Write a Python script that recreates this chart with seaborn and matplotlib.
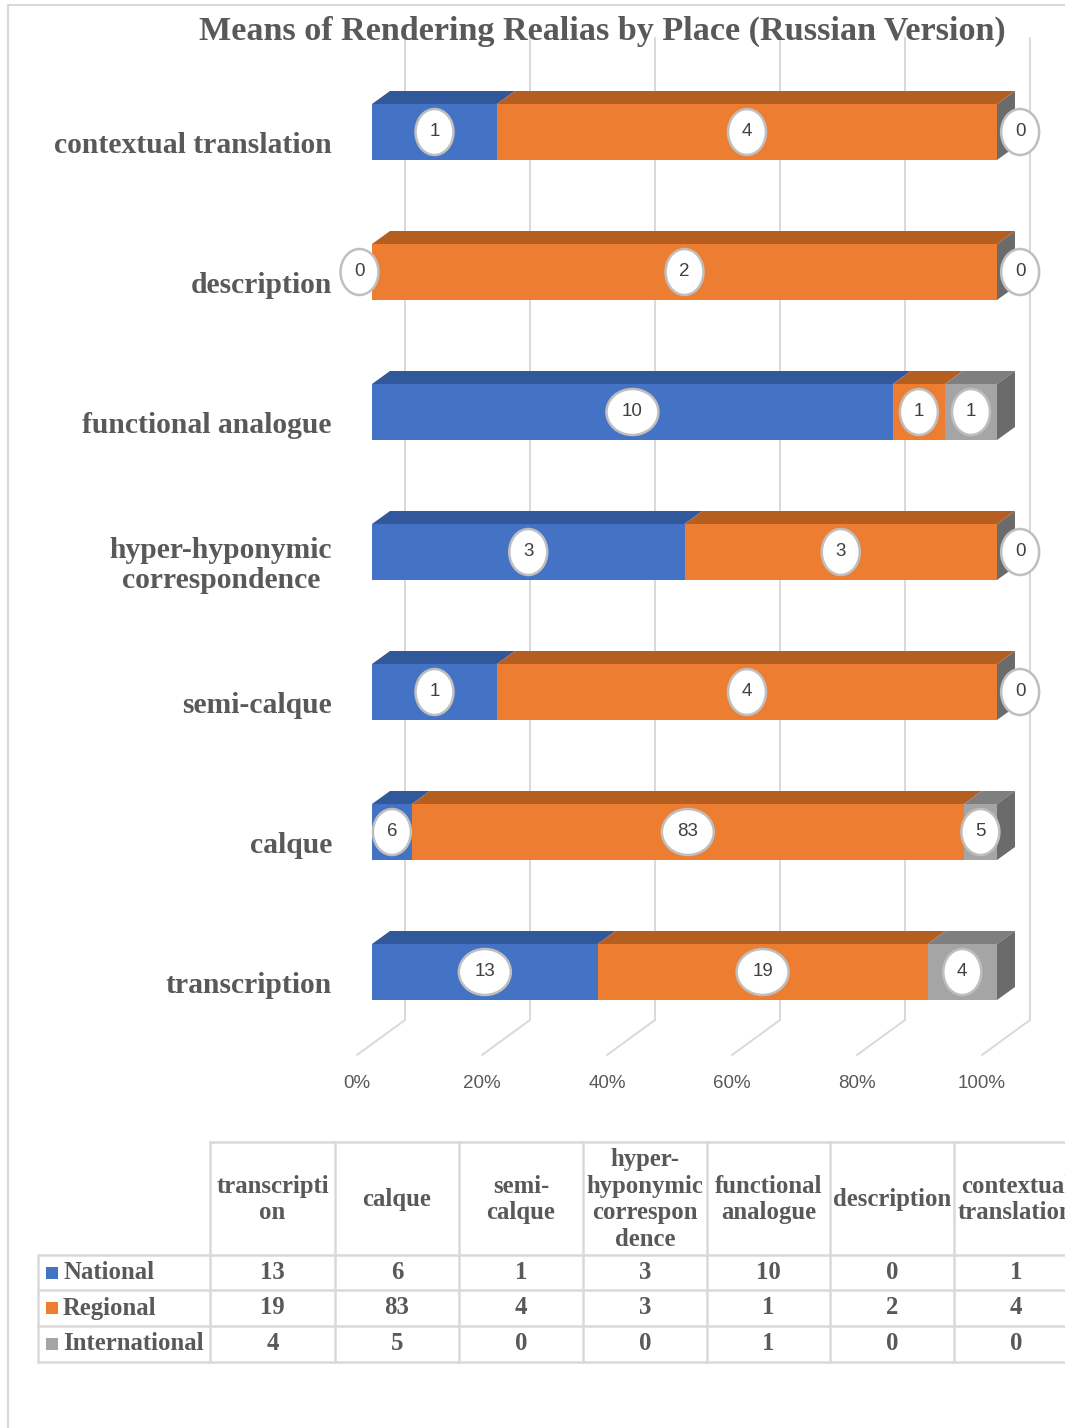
import numpy as np
import pandas as pd
import matplotlib
matplotlib.use("Agg")
import matplotlib.pyplot as plt
from matplotlib.patches import Polygon, Ellipse, Rectangle
import seaborn as sns

# ---- data -------------------------------------------------------------
methods = ["transcription", "calque", "semi-calque", "hyper-hyponymic correspondence",
           "functional analogue", "description", "contextual translation"]
national = [13, 6, 1, 3, 10, 0, 1]
regional = [19, 83, 4, 3, 1, 2, 4]
international = [4, 5, 0, 0, 1, 0, 0]
series_names = ["National", "Regional", "International"]
axis_labels = {"hyper-hyponymic correspondence": "hyper-hyponymic\ncorrespondence"}
table_headers = ["transcripti\non", "calque", "semi-\ncalque",
                 "hyper-\nhyponymic\ncorrespon\ndence", "functional\nanalogue",
                 "description", "contextual\ntranslation"]
tick_values = [0.0, 0.2, 0.4, 0.6, 0.8, 1.0]
tick_labels = ["0%", "20%", "40%", "60%", "80%", "100%"]
title = "Means of Rendering Realias by Place (Russian Version)"

# ---- styling ----------------------------------------------------------
sns.set_style("white")
plt.rcParams["font.family"] = ["Liberation Serif", "DejaVu Serif"]
SERIF = ["Liberation Serif", "DejaVu Serif"]
SANS = ["Liberation Sans", "DejaVu Sans"]
TXT = "#595959"
GRID = "#d9d9d9"
front = ["#4472C4", "#ED7D31", "#A5A5A5"]
top = ["#30589A", "#B55E22", "#7F7F7F"]
SIDE = "#6B6B6B"

W, H = 1065, 1428
fig = plt.figure(figsize=(W / 100, H / 100), dpi=100)
fig.patch.set_facecolor("white")

# main plotting area (pixel box -> figure fraction)
L, R, T, B = 330, 1060, 20, 1110
ax = fig.add_axes([L / W, 1 - B / H, (R - L) / W, (B - T) / H])
X0, XS = 372, 625.0      # pixel of 0 %, pixels per 100 %
Y0, YS = 132, 140.0      # pixel of first category, pixels per category


def px_x(p):
    return (p - X0) / XS


def px_y(p):
    return (p - Y0) / YS


df = pd.DataFrame({"method": methods, "national": national,
                   "regional": regional, "international": international})
df["total"] = df[["national", "regional", "international"]].sum(axis=1)
df["s1"] = df["national"] / df["total"]
df["s2"] = (df["national"] + df["regional"]) / df["total"]
df["s3"] = (df["national"] + df["regional"] + df["international"]) / df["total"]

order = methods[::-1]
for col, c in zip(["s3", "s2", "s1"], front[::-1]):
    sns.barplot(data=df, x=col, y="method", order=order, color=c, width=0.4,
                saturation=1, linewidth=0, orient="h", ax=ax, zorder=2)

ax.set_xlim(px_x(L), px_x(R))
ax.set_ylim(px_y(B), px_y(T))
ax.set_xticks([])
ax.set_yticks([])
ax.set_xlabel("")
ax.set_ylabel("")
for s in ax.spines.values():
    s.set_visible(False)
ax.patch.set_alpha(0)

# 3-D depth offsets
dx, dy = 18 / XS, -13 / YS
gx, fx = 33 / XS, -15 / XS
g_top, g_back, g_front = px_y(38), px_y(1020), px_y(1055)

for t, lab in zip(tick_values, tick_labels):
    ax.plot([t + gx, t + gx], [g_top, g_back], color=GRID, lw=1.4, zorder=0.5)
    ax.plot([t + gx, t + fx], [g_back, g_front], color=GRID, lw=1.4, zorder=0.5)
    ax.text(t + fx, px_y(1083), lab, ha="center", va="center", fontsize=13.5,
            color=TXT, family=SANS)

n = len(order)
blue_patches = ax.patches[2 * n:3 * n]
rows = df.set_index("method")
for k, m in enumerate(order):
    p = blue_patches[k]
    yt, yb = p.get_y(), p.get_y() + p.get_height()
    yc = (yt + yb) / 2
    r = rows.loc[m]
    bounds = [0.0, r["s1"], r["s2"], r["s3"]]
    vals = [r["national"], r["regional"], r["international"]]
    for j in range(3):
        a, b = bounds[j], bounds[j + 1]
        if b > a:
            ax.add_patch(Polygon([(a, yt), (b, yt), (b + dx, yt + dy), (a + dx, yt + dy)],
                                 closed=True, facecolor=top[j], edgecolor="none", zorder=2.5))
    ax.add_patch(Polygon([(1, yt), (1 + dx, yt + dy), (1 + dx, yb + dy), (1, yb)],
                         closed=True, facecolor=SIDE, edgecolor="none", zorder=2.5))
    # value callouts
    for j in range(3):
        a, b = bounds[j], bounds[j + 1]
        xc = (a + b) / 2
        if vals[j] == 0:
            xc = a - 0.02 if j == 0 else b + 0.037
        txt = str(int(vals[j]))
        ew = (24 + 14 * len(txt)) / XS
        ax.add_patch(Ellipse((xc, yc), ew, 46 / YS, facecolor="white",
                             edgecolor="#bfbfbf", lw=1.8, zorder=4))
        ax.text(xc, yc, txt, ha="center", va="center", fontsize=13.5,
                color="#404040", family=SANS, zorder=5)
    ax.text(px_x(332), yc + 0.095, axis_labels.get(m, m), ha="right", va="center",
            multialignment="center", fontsize=21.3, fontweight="bold", color=TXT,
            family=SERIF, linespacing=1.12)

# ---- overlay: title, frame, data table -------------------------------
ov = fig.add_axes([0, 0, 1, 1])
ov.set_xlim(0, W)
ov.set_ylim(H, 0)
ov.axis("off")
ov.patch.set_alpha(0)

ov.text(602, 31, title, ha="center", va="center", fontsize=24.6, fontweight="bold",
        color=TXT, family=SERIF)
ov.plot([8, 8], [5, H], color=GRID, lw=1.5)
ov.plot([8, W], [5, 5], color=GRID, lw=1.5)

col_edges = [38, 210, 335, 459, 583, 707, 830, 954, 1078]
row_edges = [1142, 1255, 1290, 1326, 1362]
lw_t = 1.8
# horizontal rules
ov.plot([col_edges[1], col_edges[-1]], [row_edges[0]] * 2, color=GRID, lw=lw_t)
for yv in row_edges[1:]:
    ov.plot([col_edges[0], col_edges[-1]], [yv] * 2, color=GRID, lw=lw_t)
# vertical rules
ov.plot([col_edges[0]] * 2, [row_edges[1], row_edges[-1]], color=GRID, lw=lw_t)
for xv in col_edges[1:]:
    ov.plot([xv] * 2, [row_edges[0], row_edges[-1]], color=GRID, lw=lw_t)

tfs = 17.8
for c, hdr in enumerate(table_headers):
    xc = (col_edges[c + 1] + col_edges[c + 2]) / 2
    ov.text(xc, (row_edges[0] + row_edges[1]) / 2 + 1, hdr, ha="center", va="center",
            multialignment="center", fontsize=tfs, fontweight="bold", color=TXT,
            family=SERIF, linespacing=1.2)
series_vals = [national, regional, international]
for r_i, (name, vals) in enumerate(zip(series_names, series_vals)):
    yc = (row_edges[r_i + 1] + row_edges[r_i + 2]) / 2
    ov.add_patch(Rectangle((46, yc - 6), 12, 12, facecolor=front[r_i], edgecolor="none"))
    ov.text(63, yc, name, ha="left", va="center", fontsize=tfs, fontweight="bold",
            color=TXT, family=SERIF)
    for c, v in enumerate(vals):
        xc = (col_edges[c + 1] + col_edges[c + 2]) / 2
        ov.text(xc, yc, str(v), ha="center", va="center", fontsize=tfs,
                fontweight="bold", color=TXT, family=SERIF)

fig.savefig("out.png", dpi=100, facecolor="white")
